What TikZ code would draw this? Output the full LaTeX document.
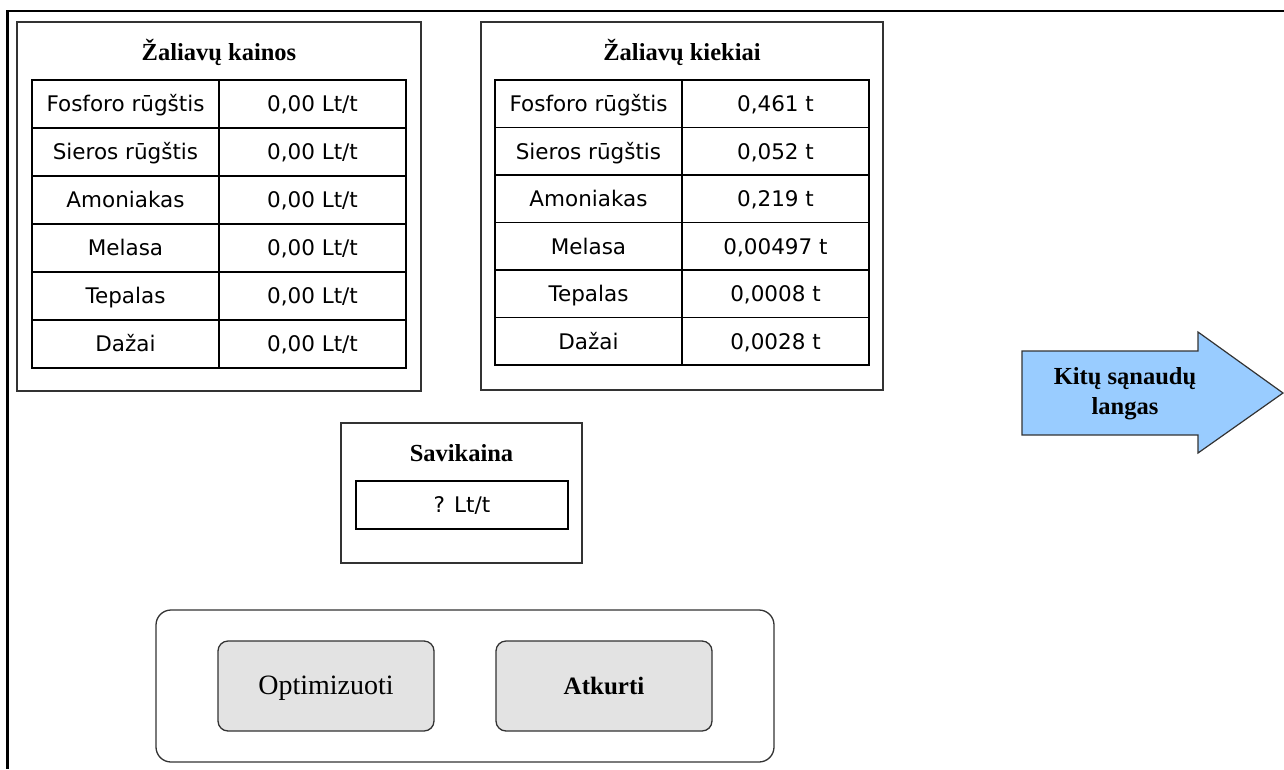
\documentclass[tikz,border=0pt]{standalone}
\usepackage{fontspec}
\setmainfont{Liberation Serif}
\newfontfamily\cellfont{DejaVu Sans}
\definecolor{btnfill}{HTML}{E3E3E3}
\definecolor{arrowfill}{HTML}{99CCFF}
\definecolor{edge}{HTML}{333333}
\begin{document}
\begin{tikzpicture}[x=1pt,y=-1pt,
  frame/.style={draw=black, line width=2.4pt},
  panel/.style={draw=edge, line width=1.3pt, inner sep=0pt},
  title/.style={font=\bfseries\fontsize{24.5}{29}\selectfont, inner sep=0pt},
  cell/.style={draw=black, line width=1.5pt, inner sep=0pt,
    minimum width=187pt, text height=17pt, text depth=1.5pt,
    font=\cellfont\fontsize{21.5}{25}\selectfont},
  button/.style={draw=edge, line width=1.3pt, fill=btnfill, rounded corners=10pt,
    minimum width=216pt, minimum height=90pt, inner sep=0pt},
  bigarrow/.style={draw=edge, line width=1.2pt, fill=arrowfill}]
\useasboundingbox (0,0) rectangle (1284,769);

% window frame (runs off to the right and bottom)
\coordinate (frTR) at (1284,11);
\coordinate (frC) at (7.5,11);
\coordinate (frBL) at (7.5,769);
\draw[frame] (frTR) -- (frC) -- (frBL);

% raw material prices
\node[panel, minimum width=404pt, minimum height=369pt] (kainos) at (219,206.5) {};
\node[title] (kainosT) at (219,52) {Žaliavų kainos};
\foreach \n [count=\i from 0] in {Fosforo rūgštis, Sieros rūgštis, Amoniakas, Melasa, Tepalas, Dažai} {
  \node[cell, minimum height=48pt] (kn\i) at (125.5,104+48*\i) {\n};
  \node[cell, minimum height=48pt] (kv\i) at (312.5,104+48*\i) {0,00 Lt/t};
}

% raw material quantities
\node[panel, minimum width=402pt, minimum height=368pt] (kiekiai) at (682,206) {};
\node[title] (kiekiaiT) at (682,52) {Žaliavų kiekiai};
\foreach \n/\v [count=\i from 0] in {Fosforo rūgštis/{0,461 t}, Sieros rūgštis/{0,052 t},
    Amoniakas/{0,219 t}, Melasa/{0,00497 t}, Tepalas/{0,0008 t}, Dažai/{0,0028 t}} {
  \node[cell, minimum height=47.5pt] (qn\i) at (588.5,103.75+47.5*\i) {\n};
  \node[cell, minimum height=47.5pt] (qv\i) at (775.5,103.75+47.5*\i) {\v};
}

% cost price
\node[panel, minimum width=241pt, minimum height=140pt] (savikaina) at (461.5,493) {};
\node[title] (savikainaT) at (461.5,453) {Savikaina};
\node[cell, minimum width=212pt, minimum height=48pt] (savikainaV) at (462,505) {? Lt/t};

% action buttons
\node[draw=edge, line width=1.3pt, rounded corners=15pt, minimum width=618pt,
  minimum height=152pt, inner sep=0pt] (actions) at (465,686) {};
\node[button, font=\fontsize{28}{32}\selectfont, text height=19pt, text depth=2pt] (optim) at (326,686) {Optimizuoti};
\node[button, font=\bfseries\fontsize{25}{30}\selectfont] (atkurti) at (604,686) {Atkurti};

% link to the next window
\coordinate (a1) at (1022,351);
\coordinate (a2) at (1198,351);
\coordinate (a3) at (1198,332);
\coordinate (a4) at (1283,393);
\coordinate (a5) at (1198,453);
\coordinate (a6) at (1198,435);
\coordinate (a7) at (1022,435);
\draw[bigarrow] (a1) -- (a2) -- (a3) -- (a4) -- (a5) -- (a6) -- (a7) -- cycle;
\node[align=center, font=\bfseries\fontsize{24.5}{30}\selectfont, inner sep=0pt]
  (next) at (1125,394) {Kitų sąnaudų\\langas};
\end{tikzpicture}
\end{document}
